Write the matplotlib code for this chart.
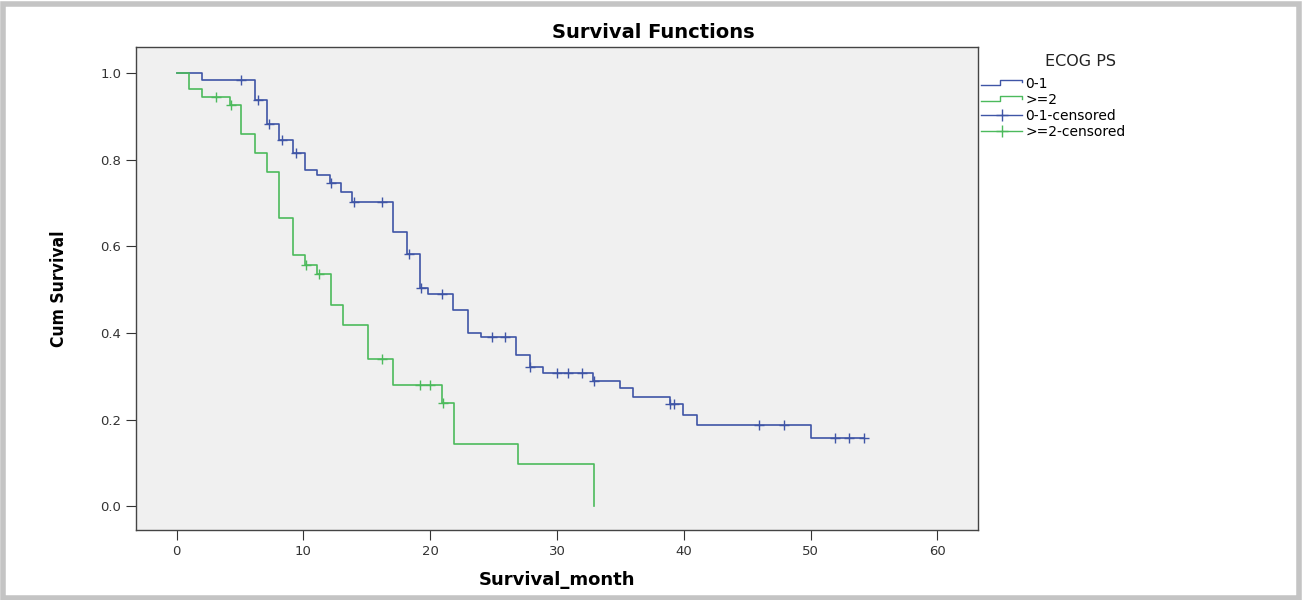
import numpy as np
import matplotlib.pyplot as plt
from matplotlib.lines import Line2D
from matplotlib.legend_handler import HandlerBase
from matplotlib.patches import Rectangle

# ECOG PS 0-1: event times (months) and survival after each step
t_01 = [0, 2.0, 6.2, 7.1, 8.1, 9.2, 10.1, 11.1, 12.1, 13.0, 13.8, 17.1, 18.2,
        19.2, 19.8, 21.8, 23.0, 24.0, 26.8, 27.9, 28.9, 32.8, 35.0, 36.0,
        38.9, 39.9, 41.0, 50.0]
s_01 = [1.0, 0.984, 0.937, 0.882, 0.845, 0.815, 0.776, 0.764, 0.746, 0.725,
        0.702, 0.633, 0.582, 0.503, 0.49, 0.453, 0.40, 0.39, 0.35, 0.321,
        0.307, 0.289, 0.272, 0.252, 0.236, 0.21, 0.187, 0.157]
cens_01 = [5.1, 6.4, 7.3, 8.3, 9.4, 12.2, 14.0, 16.2, 18.3, 19.3, 20.9, 24.9,
           25.9, 27.9, 30.0, 30.9, 32.0, 32.9, 38.9, 39.2, 45.9, 47.9, 51.9,
           53.0, 54.2]

# ECOG PS >=2
t_2 = [0, 1.0, 2.0, 4.2, 5.1, 6.2, 7.1, 8.1, 9.2, 10.1, 11.1, 12.2, 13.1,
       15.1, 17.1, 20.9, 21.9, 26.9, 32.9]
s_2 = [1.0, 0.963, 0.945, 0.926, 0.86, 0.815, 0.771, 0.665, 0.58, 0.557,
       0.536, 0.464, 0.418, 0.34, 0.279, 0.238, 0.143, 0.097, 0.0]
cens_2 = [3.1, 4.3, 10.2, 11.2, 16.2, 19.2, 20.0, 21.0]

labels = ["0-1", ">=2", "0-1-censored", ">=2-censored"]
blue = "#3f55a6"
green = "#4cba5c"


def surv_at(t, s, times):
    idx = np.searchsorted(t, times, side="right") - 1
    return np.asarray(s)[idx]


class StepHandler(HandlerBase):
    def create_artists(self, legend, orig, x0, y0, w, h, fontsize, trans):
        xs = [x0, x0 + w * 0.45, x0 + w * 0.45, x0 + w, x0 + w]
        ys = [y0 + h * 0.3, y0 + h * 0.3, y0 + h * 0.8, y0 + h * 0.8, y0 + h * 0.55]
        ln = Line2D(xs, ys, color=orig.get_color(), lw=1, transform=trans)
        return [ln]


fig = plt.figure(figsize=(13.06, 6), dpi=100)
fig.patches.append(Rectangle((0.002, 0.004), 0.993, 0.99, transform=fig.transFigure,
                             fill=False, edgecolor="#c4c4c4", lw=4))
ax = fig.add_axes([0.1041, 0.1167, 0.6448, 0.805])
ax.set_facecolor("#f0f0f0")

# curves
ax.step(t_01 + [cens_01[-1]], s_01 + [s_01[-1]], where="post", color=blue, lw=1.2)
ax.step(t_2, s_2, where="post", color=green, lw=1.2)
ax.plot(cens_01, surv_at(t_01, s_01, cens_01), ls="none", marker="+",
        ms=7, mew=1, color=blue)
ax.plot(cens_2, surv_at(t_2, s_2, cens_2), ls="none", marker="+",
        ms=7, mew=1, color=green)

ax.set_xlim(-3.2, 63.2)
ax.set_ylim(-0.055, 1.06)
ax.set_xticks(range(0, 61, 10))
ax.set_yticks(np.arange(0, 1.01, 0.2))
ax.yaxis.set_major_formatter(plt.FuncFormatter(lambda v, p: f"{v:.1f}"))
ax.tick_params(labelsize=9.5, length=7, color="#333333", labelcolor="#333333")
for sp in ax.spines.values():
    sp.set_color("#444444")
    sp.set_linewidth(1)

ax.set_xlabel("Survival_month", fontsize=13, fontweight="bold", labelpad=10)
ax.set_ylabel("Cum Survival", fontsize=12.5, fontweight="bold", labelpad=23,
              family=["Liberation Sans Narrow", "DejaVu Sans"],
              fontstretch="condensed")
fig.text(0.5, 0.945, "Survival Functions", ha="center", va="center",
         fontsize=14, fontweight="bold")

fig.text(0.827, 0.897, "ECOG PS", ha="center", va="center", fontsize=11.5,
         color="#222222")
handles = [Line2D([], [], color=blue), Line2D([], [], color=green),
           Line2D([], [], color=blue, marker="+", ms=8, lw=1),
           Line2D([], [], color=green, marker="+", ms=8, lw=1)]
fig.legend(handles, labels, loc="upper left", bbox_to_anchor=(0.751, 0.872),
           frameon=False, fontsize=10, handlelength=3, handletextpad=0.2,
           labelspacing=0.15, borderaxespad=0, borderpad=0,
           handler_map={handles[0]: StepHandler(), handles[1]: StepHandler()})

fig.savefig("out.png", dpi=100)
